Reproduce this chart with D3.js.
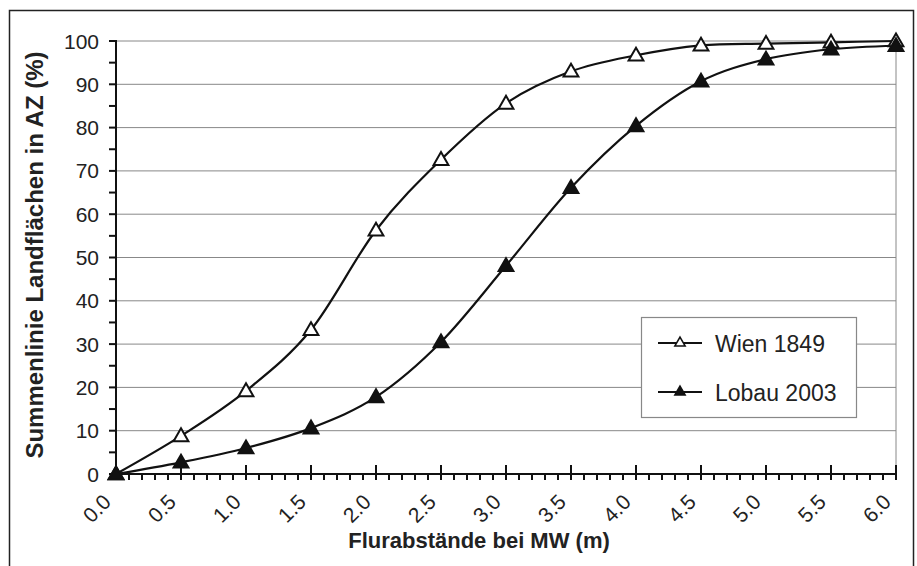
<!DOCTYPE html>
<html><head><meta charset="utf-8">
<script src="https://cdn.jsdelivr.net/npm/d3@7"></script>
<style>body{margin:0;background:#fff}svg{display:block}</style>
</head><body>
<svg id="c" width="917" height="566"></svg>
<script>
const xValues = [0, 0.5, 1.0, 1.5, 2.0, 2.5, 3.0, 3.5, 4.0, 4.5, 5.0, 5.5, 6.0];
const wien1849 = [0, 8.8, 19.2, 33.3, 56.3, 72.6, 85.6, 93.0, 96.7, 99.0, 99.4, 99.7, 100];
const lobau2003 = [0, 2.7, 6.0, 10.6, 17.8, 30.5, 48.1, 66.1, 80.4, 90.7, 95.8, 98.1, 98.9];
const xTicks = [0, 0.5, 1.0, 1.5, 2.0, 2.5, 3.0, 3.5, 4.0, 4.5, 5.0, 5.5, 6.0];
const yTicks = [0, 10, 20, 30, 40, 50, 60, 70, 80, 90, 100];
const seriesNames = ["Wien 1849", "Lobau 2003"];
const xTitle = "Flurabstände bei MW (m)";
const yTitle = "Summenlinie Landflächen in AZ (%)";

const svg = d3.select("#c");
const font = "'Liberation Sans', Arial, sans-serif";
const L = 116, R = 896, T = 41, B = 474;
const x = d3.scaleLinear().domain([0, 6]).range([L, R]);
const y = d3.scaleLinear().domain([0, 100]).range([B, T]);

// outer frame
svg.append("rect").attr("x", 9.5).attr("y", 10.5).attr("width", 904).attr("height", 570)
  .attr("fill", "none").attr("stroke", "#222").attr("stroke-width", 1.5);

// gridlines
svg.append("g").selectAll("line").data(yTicks.filter(d => d > 0)).join("line")
  .attr("x1", L).attr("x2", R).attr("y1", d => y(d)).attr("y2", d => y(d))
  .attr("stroke", "#888").attr("stroke-width", 1);
// right plot border
svg.append("line").attr("x1", R).attr("x2", R).attr("y1", T).attr("y2", B)
  .attr("stroke", "#888").attr("stroke-width", 1);

// y axis
const yMinor = d3.range(0, 101, 5);
const gy = svg.append("g");
gy.append("line").attr("x1", L).attr("x2", L).attr("y1", T - 1).attr("y2", B).attr("stroke", "#111").attr("stroke-width", 2);
gy.selectAll("line.t").data(yMinor).join("line").attr("class", "t")
  .attr("x1", L - 7).attr("x2", L).attr("y1", d => y(d)).attr("y2", d => y(d))
  .attr("stroke", "#111").attr("stroke-width", 2);
gy.selectAll("text").data(yTicks).join("text")
  .attr("x", 99).attr("y", d => y(d)).attr("dy", "0.36em")
  .attr("text-anchor", "end").attr("font-family", font).attr("font-size", 21).attr("fill", "#222")
  .text(d => d);

// x axis
const xMinor = d3.range(0, 61).map(i => i / 10);
const gx = svg.append("g");
gx.append("line").attr("x1", L).attr("x2", R).attr("y1", B).attr("y2", B).attr("stroke", "#111").attr("stroke-width", 2);
gx.selectAll("line.m").data(xMinor).join("line").attr("class", "m")
  .attr("x1", d => x(d)).attr("x2", d => x(d)).attr("y1", B).attr("y2", B + 6)
  .attr("stroke", "#111").attr("stroke-width", 2);
gx.selectAll("line.M").data(xTicks).join("line").attr("class", "M")
  .attr("x1", d => x(d)).attr("x2", d => x(d)).attr("y1", B - 9).attr("y2", B + 6)
  .attr("stroke", "#111").attr("stroke-width", 2);
gx.selectAll("text").data(xTicks).join("text")
  .attr("transform", d => `translate(${x(d) - 9},${B + 24}) rotate(-45)`)
  .attr("text-anchor", "end").attr("dy", "0.36em")
  .attr("font-family", font).attr("font-size", 21).attr("fill", "#222")
  .text(d => d.toFixed(1));

// titles
svg.append("text").attr("x", 479).attr("y", 548).attr("text-anchor", "middle")
  .attr("font-family", font).attr("font-size", 22).attr("font-weight", "bold").attr("fill", "#222")
  .text(xTitle);
svg.append("text").attr("transform", "translate(43,255) rotate(-90)").attr("text-anchor", "middle")
  .attr("font-family", font).attr("font-size", 24).attr("font-weight", "bold").attr("fill", "#222")
  .text(yTitle);

// series
const line = d3.line().x((d, i) => x(xValues[i])).y(d => y(d)).curve(d3.curveCardinal.tension(0));
const tri = d3.symbol().type(d3.symbolTriangle);
const series = [
  { name: seriesNames[0], values: wien1849, fill: "#fff" },
  { name: seriesNames[1], values: lobau2003, fill: "#111" }
];
series.forEach(s => {
  svg.append("path").attr("d", line(s.values)).attr("fill", "none").attr("stroke", "#111").attr("stroke-width", 2.2);
});
series.forEach(s => {
  svg.append("g").selectAll("path").data(s.values).join("path")
    .attr("d", tri.size(95)())
    .attr("transform", (d, i) => `translate(${x(xValues[i])},${y(d) + 1})`)
    .attr("fill", s.fill).attr("stroke", "#111").attr("stroke-width", 2);
});

// legend
const lg = svg.append("g");
lg.append("rect").attr("x", 641.5).attr("y", 317.5).attr("width", 215).attr("height", 100)
  .attr("fill", "#fff").attr("stroke", "#888").attr("stroke-width", 1.2);
series.forEach((s, i) => {
  const ly = 343 + i * 49;
  lg.append("line").attr("x1", 658).attr("x2", 702).attr("y1", ly).attr("y2", ly).attr("stroke", "#111").attr("stroke-width", 2);
  lg.append("path").attr("d", tri.size(45)()).attr("transform", `translate(680,${ly})`)
    .attr("fill", s.fill).attr("stroke", "#111").attr("stroke-width", 1.6);
  lg.append("text").attr("x", 715).attr("y", ly + 9).attr("font-family", font).attr("font-size", 23).attr("fill", "#222").text(s.name);
});
</script>
</body></html>
